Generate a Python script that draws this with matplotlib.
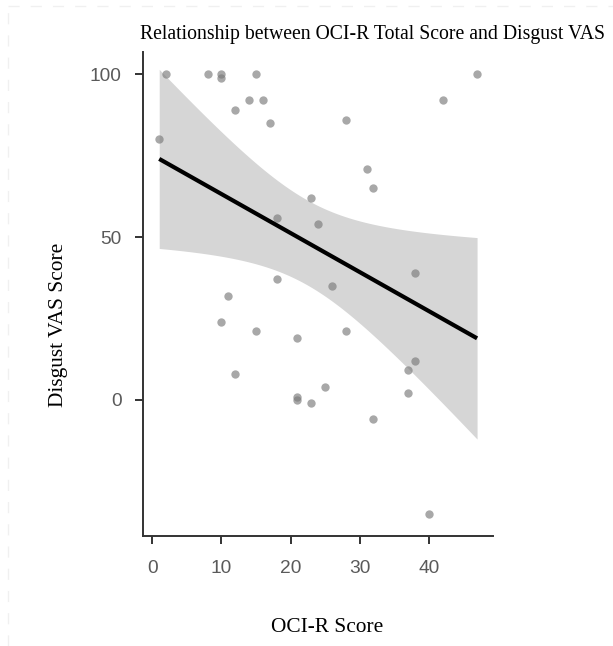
import numpy as np
import matplotlib
matplotlib.use("Agg")
import matplotlib.pyplot as plt
from matplotlib.lines import Line2D

# OCI-R total score vs. disgust VAS rating, one point per participant
oci_r = [1, 2, 8, 10, 10, 15, 14, 16, 12, 17, 23, 18, 24, 47, 42, 28, 31, 32,
         18, 26, 11, 10, 15, 21, 12, 25, 21, 21, 23, 38, 28, 38, 37, 37, 32, 40]
disgust_vas = [80, 100, 100, 100, 99, 100, 92, 92, 89, 85, 62, 56, 54, 100, 92, 86, 71, 65,
               37, 35, 32, 24, 21, 19, 8, 4, 1, 0, -1, 39, 21, 12, 9, 2, -6, -35]

x_ticks = [0, 10, 20, 30, 40]
y_ticks = [0, 50, 100]

x = np.array(oci_r, dtype=float)
y = np.array(disgust_vas, dtype=float)

# ordinary least squares fit with 95% confidence band
n = len(x)
slope, intercept = np.polyfit(x, y, 1)
resid = y - (intercept + slope * x)
s = np.sqrt(np.sum(resid ** 2) / (n - 2))
sxx = np.sum((x - x.mean()) ** 2)
t_crit = 2.0322  # t(0.975, df=34)
xs = np.linspace(x.min(), x.max(), 200)
fit = intercept + slope * xs
se = s * np.sqrt(1.0 / n + (xs - x.mean()) ** 2 / sxx)
lower = fit - t_crit * se
upper = fit + t_crit * se

fig = plt.figure(figsize=(6.13, 6.46), dpi=100)
ax = fig.add_axes([0.2338, 0.1708, 0.5704, 0.7482])

ax.fill_between(xs, lower, upper, color="#d6d6d6", linewidth=0, zorder=1)
ax.plot(xs, fit, color="black", linewidth=3.0, solid_capstyle="butt", zorder=3)
ax.scatter(x, y, s=36, color="#7a7a7a", alpha=0.65, linewidths=0, zorder=2)

# 5% padding around the points, ggplot style
x_pad = 0.05 * (x.max() - x.min())
y_pad = 0.05 * (y.max() - y.min())
ax.set_xlim(x.min() - x_pad, x.max() + x_pad)
ax.set_ylim(y.min() - y_pad, y.max() + y_pad)

ax.set_xticks(x_ticks)
ax.set_yticks(y_ticks)
for side in ["top", "right"]:
    ax.spines[side].set_visible(False)
for side in ["left", "bottom"]:
    ax.spines[side].set_color("#333333")
    ax.spines[side].set_linewidth(1.4)
ax.tick_params(axis="both", length=6, width=1.4, color="#333333",
               labelcolor="#5a5a5a", labelsize=13.8, pad=9.5)
ax.tick_params(axis="x", pad=11.5)
for lab in ax.get_xticklabels() + ax.get_yticklabels():
    lab.set_family("Liberation Sans")

fig.text(0.608, 0.946, "Relationship between OCI-R Total Score and Disgust VAS",
         ha="center", va="center", family="Liberation Serif", fontsize=14.2)
fig.text(0.095, 0.497, "Disgust VAS Score", rotation=90, ha="center", va="center",
         family="Liberation Serif", fontsize=15.4)
fig.text(0.534, 0.029, "OCI-R Score", ha="center", va="center",
         family="Liberation Serif", fontsize=15.4)

# faint page border
fig.add_artist(Line2D([0.013, 0.013], [0.0, 0.99], transform=fig.transFigure,
                      color="#f0f0f0", linewidth=1, linestyle=(0, (8, 8))))
fig.add_artist(Line2D([0.013, 1.0], [0.99, 0.99], transform=fig.transFigure,
                      color="#f0f0f0", linewidth=1, linestyle=(0, (8, 8))))

fig.savefig("out.png", dpi=100, facecolor="white")
